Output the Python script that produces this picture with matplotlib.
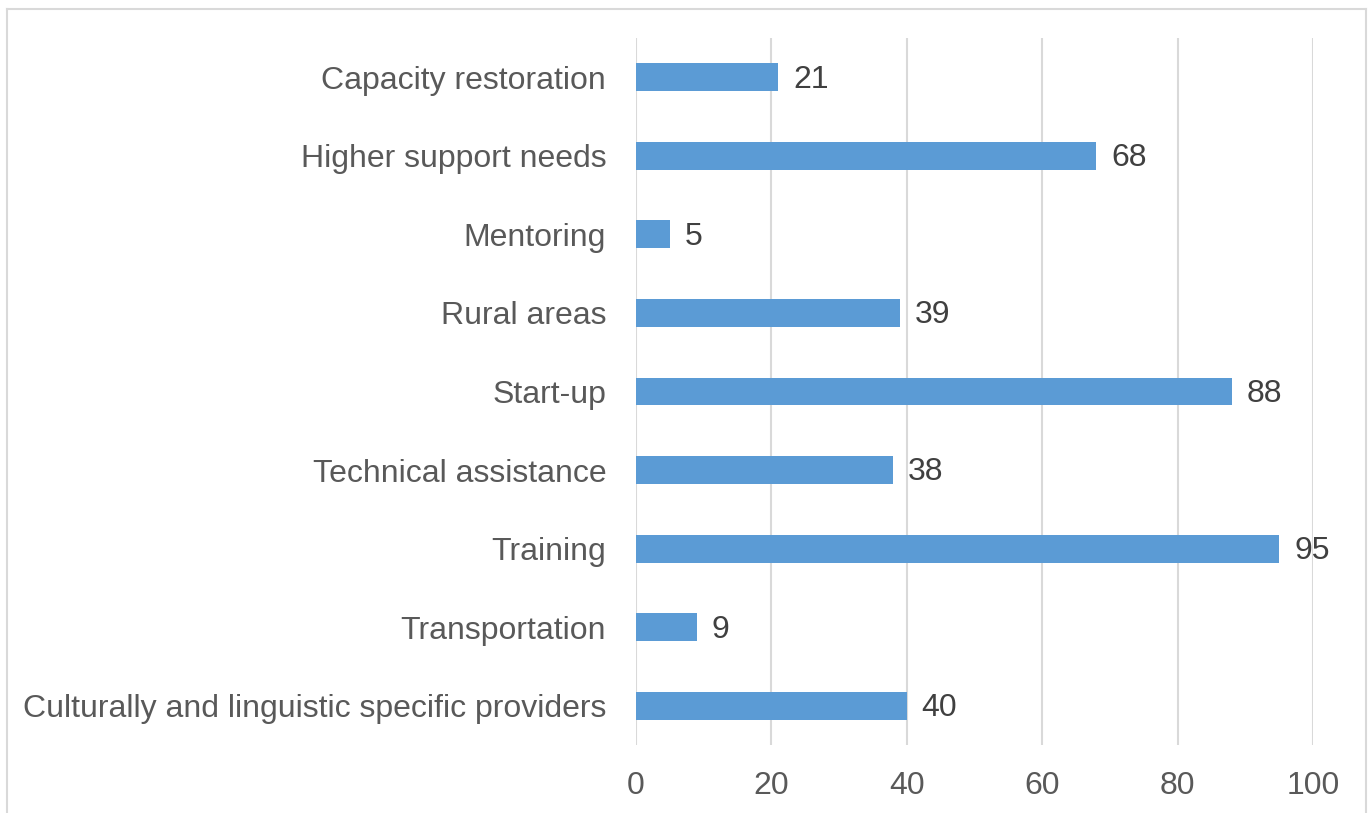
import matplotlib.pyplot as plt
from matplotlib.lines import Line2D

categories = ["Capacity restoration", "Higher support needs", "Mentoring", "Rural areas",
              "Start-up", "Technical assistance", "Training", "Transportation",
              "Culturally and linguistic specific providers"]
values = [21, 68, 5, 39, 88, 38, 95, 9, 40]
xticks = [0, 20, 40, 60, 80, 100]

plt.rcParams["font.family"] = ["Liberation Sans", "DejaVu Sans"]

fig = plt.figure(figsize=(13.7, 8.13), dpi=100)
ax = fig.add_axes([636 / 1370, 1 - 745 / 813, (1313 - 636) / 1370, (745 - 38) / 813])

ypos = list(range(len(categories)))
ax.barh(ypos, values, height=0.356, color="#5B9BD5", zorder=3)
for y, v in zip(ypos, values):
    ax.text(v + 2.2, y + 0.03, str(v), va="center", ha="left", fontsize=23, color="#404040")

ax.set_xlim(0, 100)
ax.set_ylim(len(categories) - 0.5, -0.5)
ax.set_yticks(ypos)
ax.set_yticklabels(categories)
ax.set_xticks(xticks)
ax.tick_params(axis="y", length=0, pad=21.5, labelsize=23, labelcolor="#595959")
ax.tick_params(axis="x", length=0, pad=19, labelsize=23, labelcolor="#595959")
ax.grid(axis="x", color="#D9D9D9", linewidth=1.5, zorder=0)
for s in ax.spines.values():
    s.set_visible(False)

# chart border (bottom edge is cropped off in the reference)
bc = "#D9D9D9"
fig.add_artist(Line2D([7 / 1370, 7 / 1370], [0, 1 - 9 / 813], transform=fig.transFigure, color=bc, lw=1.5))
fig.add_artist(Line2D([1366 / 1370, 1366 / 1370], [0, 1 - 9 / 813], transform=fig.transFigure, color=bc, lw=1.5))
fig.add_artist(Line2D([7 / 1370, 1366 / 1370], [1 - 9 / 813, 1 - 9 / 813], transform=fig.transFigure, color=bc, lw=1.5))

fig.savefig("out.png", dpi=100, facecolor="w")
